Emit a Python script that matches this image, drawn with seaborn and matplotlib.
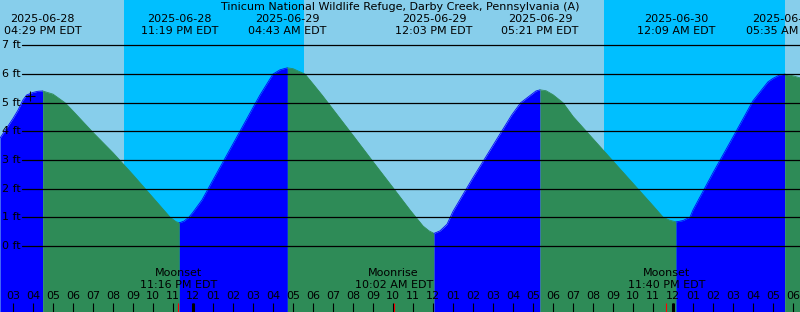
import matplotlib
matplotlib.use("Agg")
import matplotlib.pyplot as plt
import seaborn as sns
import pandas as pd
from matplotlib.transforms import blended_transform_factory

# ---------------- data (hours after 2025-06-28 00:00 EDT, heights in ft) ----------------
title = "Tinicum National Wildlife Refuge, Darby Creek, Pennsylvania (A)"

curve_hours = [14.35, 15.0, 15.25, 15.5, 15.685, 16.0, 16.25, 16.483,
               17.0, 17.6, 18.0, 19.0, 20.0, 21.0, 22.0, 22.85, 23.0, 23.15, 23.317,
               23.55, 23.8, 24.0, 24.45, 25.0, 26.0, 27.0, 27.35, 28.0, 28.35, 28.717,
               29.0, 29.6, 30.0, 30.45, 31.0, 32.0, 33.0, 34.0, 34.85, 35.0, 35.5, 35.8, 36.05,
               36.35, 36.7, 37.0, 38.0, 39.0, 39.935, 40.385, 41.0, 41.15, 41.35,
               41.65, 42.0, 42.5, 43.0, 44.0, 45.0, 46.0, 47.0, 47.5, 47.8, 48.0, 48.15,
               48.5, 48.85, 49.0, 50.0, 51.0, 52.0, 52.75, 53.0, 53.3, 53.583,
               54.0, 54.35]
curve_feet = [3.76, 4.45, 4.74, 5.10, 5.27, 5.36, 5.40, 5.41,
              5.30, 5.00, 4.71, 3.96, 3.25, 2.48, 1.68, 1.00, 0.92, 0.84, 0.80,
              0.86, 1.00, 1.17, 1.60, 2.30, 3.56, 4.83, 5.27, 6.00, 6.15, 6.22,
              6.19, 6.00, 5.66, 5.27, 4.77, 3.86, 2.94, 2.03, 1.25, 1.12, 0.69, 0.52, 0.43,
              0.52, 0.75, 1.20, 2.38, 3.51, 4.57, 5.00, 5.33, 5.41, 5.45,
              5.42, 5.28, 5.00, 4.52, 3.74, 2.96, 2.18, 1.40, 1.00, 0.90, 0.86, 0.83,
              0.88, 1.00, 1.25, 2.55, 3.80, 5.07, 5.73, 5.85, 5.96, 6.00,
              5.94, 5.87]

extreme_hours = [16.483, 23.317, 28.717, 36.05, 41.35, 48.15, 53.583]
extreme_dates = ["2025-06-28", "2025-06-28", "2025-06-29", "2025-06-29",
                 "2025-06-29", "2025-06-30", "2025-06-30"]
extreme_times = ["04:29 PM EDT", "11:19 PM EDT", "04:43 AM EDT", "12:03 PM EDT",
                 "05:21 PM EDT", "12:09 AM EDT", "05:35 AM EDT"]

night_start = [20.55, 44.55]
night_end = [29.55, 53.6]

moon_hours = [23.267, 34.033, 47.667]
moon_events = ["Moonset", "Moonrise", "Moonset"]
moon_times = ["11:16 PM EDT", "10:02 AM EDT", "11:40 PM EDT"]

midnight_hours = [24, 48]
feet_levels = [0, 1, 2, 3, 4, 5, 6, 7]
hour_ticks = list(range(15, 55))
hour_labels = ["%02d" % ((h - 1) % 12 + 1) for h in hour_ticks]

now_hour = 15.85
now_feet = 5.24

# ---------------- styling ----------------
sns.set_style("white")
plt.rcParams["font.family"] = ["DejaVu Sans"]

W, H = 800, 312
X0, X1 = 14.35, 54.35
Y_BOTTOM = (245.7 - 312) / 28.6
Y_TOP = 245.7 / 28.6

DAY = "#87CEEB"
NIGHT = "#00BFFF"
FALL = "#2E8B57"
RISE = "#0000FF"
FS = 8

fig = plt.figure(figsize=(W / 100, H / 100), dpi=100)
ax = fig.add_axes([0, 0, 1, 1])
ax.set_facecolor(DAY)
for s in ax.spines.values():
    s.set_visible(False)

def fy(py):
    return 1 - py / H

trans = blended_transform_factory(ax.transData, ax.transAxes)

# night bands
for a, b in zip(night_start, night_end):
    ax.axvspan(a, b, color=NIGHT, lw=0, zorder=0)

# tide curve, split at extremes
df = pd.DataFrame({"hour": curve_hours, "feet": curve_feet})
bounds = [curve_hours[0]] + extreme_hours + [curve_hours[-1]]
for a, b in zip(bounds[:-1], bounds[1:]):
    seg = df[(df.hour >= a) & (df.hour <= b)]
    if len(seg) < 2:
        continue
    col = RISE if seg.feet.iloc[-1] > seg.feet.iloc[0] else FALL
    ax.fill_between(seg.hour, Y_BOTTOM, seg.feet, color=col, lw=0, zorder=1)
    sns.lineplot(data=seg, x="hour", y="feet", ax=ax, color=col, lw=0.6,
                 zorder=1.1, legend=False)
ax.set_xlabel("")
ax.set_ylabel("")
ax.set_xticks([])
ax.set_yticks([])
ax.set_xlim(X0, X1)
ax.set_ylim(Y_BOTTOM, Y_TOP)

# horizontal foot lines and labels
for f in feet_levels:
    ax.axhline(f, xmin=22 / W, xmax=1, color="black", lw=0.9, zorder=2)
    ax.text(2 / W, f, "%d ft" % f, transform=blended_transform_factory(ax.transAxes, ax.transData),
            ha="left", va="center", fontsize=FS, color="black", zorder=3)

# current position marker
ax.plot([now_hour], [now_feet], marker="+", color="black", ms=7, mew=0.8, zorder=3)

# title and extreme labels
fig.text(0.5, fy(7), title, ha="center", va="center", fontsize=FS, color="black")
for h, d, t in zip(extreme_hours, extreme_dates, extreme_times):
    ax.text(h, fy(19), d, transform=trans, ha="center", va="center", fontsize=FS,
            color="black", zorder=3)
    ax.text(h, fy(31), t, transform=trans, ha="center", va="center", fontsize=FS,
            color="black", zorder=3)

# moon events
for h, e, t in zip(moon_hours, moon_events, moon_times):
    ax.text(h, fy(273), e, transform=trans, ha="center", va="center", fontsize=FS,
            color="black", zorder=3)
    ax.text(h, fy(285), t, transform=trans, ha="center", va="center", fontsize=FS,
            color="black", zorder=3)
    ax.plot([h, h], [0, fy(303)], transform=trans, color="red", lw=0.8,
            solid_capstyle="butt", zorder=3)

# hour ticks and labels
for h, lab in zip(hour_ticks, hour_labels):
    ax.text(h, fy(296), lab, transform=trans, ha="center", va="center", fontsize=FS,
            color="black", zorder=3)
    ax.plot([h, h], [0, fy(303)], transform=trans, color="black", lw=0.8,
            solid_capstyle="butt", zorder=3)
for h in midnight_hours:
    ax.plot([h, h], [0, fy(303)], transform=trans, color="black", lw=2.2,
            solid_capstyle="butt", zorder=3)

fig.savefig("out.png", dpi=100)
